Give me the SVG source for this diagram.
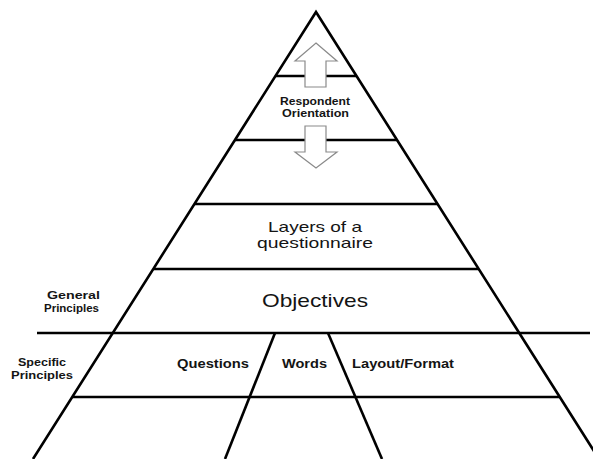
<svg xmlns="http://www.w3.org/2000/svg" width="593" height="459" viewBox="0 0 593 459">
  <defs>
    <style>
      .edge { fill: none; stroke: #000; stroke-width: 2.6; stroke-linecap: butt; stroke-linejoin: miter; }
      .arrow { fill: #fff; stroke: #8a8a8a; stroke-width: 1.2; stroke-linejoin: miter; }
      .lbl { font-family: "Liberation Sans", Arial, sans-serif; fill: #141414; }
      .b { font-weight: bold; }
    </style>
  </defs>
  <rect width="593" height="459" fill="#fff"/>

  <!-- pyramid outline and layer dividers -->
  <g id="connectors">
    <path class="edge" d="M33,459 L316,12 L599,459"/>
    <line class="edge" x1="275.5" y1="76" x2="356.5" y2="76"/>
    <line class="edge" x1="235" y1="140" x2="397" y2="140"/>
    <line class="edge" x1="194.5" y1="204" x2="437.5" y2="204"/>
    <line class="edge" x1="153.3" y1="269" x2="478.7" y2="269"/>
    <line class="edge" x1="37" y1="333" x2="590" y2="333"/>
    <line class="edge" x1="72.3" y1="397" x2="559.7" y2="397"/>
    <line class="edge" x1="275" y1="333" x2="225" y2="459"/>
    <line class="edge" x1="328" y1="333" x2="382" y2="459"/>
  </g>

  <!-- top layer: respondent orientation with two-way arrows -->
  <g id="respondent-orientation">
    <polygon class="arrow" points="316,43 337,61 326,61 326,87 305,87 305,61 295,61"/>
    <polygon class="arrow" points="305,126 326,126 326,152 337,152 316,168 295,152 305,152"/>
    <text class="lbl b" x="280" y="105" font-size="11" textLength="70" lengthAdjust="spacingAndGlyphs">Respondent</text>
    <text class="lbl b" x="282" y="117" font-size="11" textLength="67" lengthAdjust="spacingAndGlyphs">Orientation</text>
  </g>

  <g id="layers">
    <text class="lbl" x="268" y="232" font-size="14.5" textLength="94" lengthAdjust="spacingAndGlyphs">Layers of a</text>
    <text class="lbl" x="257" y="248" font-size="14.5" textLength="116" lengthAdjust="spacingAndGlyphs">questionnaire</text>
  </g>

  <g id="objectives">
    <text class="lbl" x="262" y="307" font-size="19" textLength="106" lengthAdjust="spacingAndGlyphs">Objectives</text>
  </g>

  <g id="general-principles">
    <text class="lbl b" x="47" y="299" font-size="10.5" textLength="53" lengthAdjust="spacingAndGlyphs">General</text>
    <text class="lbl b" x="44" y="312" font-size="10.5" textLength="55" lengthAdjust="spacingAndGlyphs">Principles</text>
  </g>

  <g id="specific-principles">
    <text class="lbl b" x="18" y="366" font-size="11" textLength="48" lengthAdjust="spacingAndGlyphs">Specific</text>
    <text class="lbl b" x="11" y="379" font-size="11" textLength="62" lengthAdjust="spacingAndGlyphs">Principles</text>
  </g>

  <g id="questions">
    <text class="lbl b" x="177" y="368" font-size="12" textLength="72" lengthAdjust="spacingAndGlyphs">Questions</text>
  </g>
  <g id="words">
    <text class="lbl b" x="282" y="368" font-size="12" textLength="45" lengthAdjust="spacingAndGlyphs">Words</text>
  </g>
  <g id="layout-format">
    <text class="lbl b" x="352" y="368" font-size="12" textLength="102" lengthAdjust="spacingAndGlyphs">Layout/Format</text>
  </g>
</svg>
